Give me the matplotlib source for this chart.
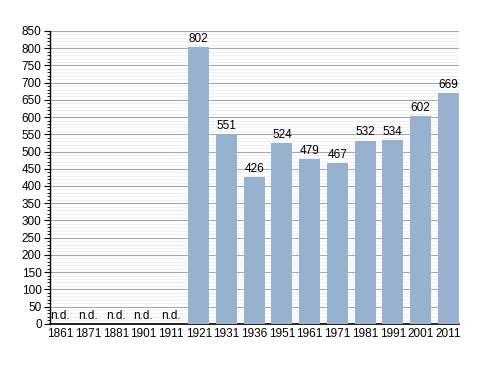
import matplotlib
matplotlib.use('Agg')
import matplotlib.pyplot as plt
from matplotlib.ticker import MultipleLocator

plt.rcParams['font.family'] = ['Liberation Sans Narrow', 'Liberation Sans', 'DejaVu Sans']

years = ['1861', '1871', '1881', '1901', '1911', '1921', '1931', '1936',
         '1951', '1961', '1971', '1981', '1991', '2001', '2011']
population = [None, None, None, None, None, 802, 551, 426,
              524, 479, 467, 532, 534, 602, 669]

fig = plt.figure(figsize=(4.88, 3.73), dpi=100)
ax = fig.add_axes([0.1025, 0.132, 0.838, 0.785])

x = list(range(len(years)))
heights = [v if v is not None else 0 for v in population]
bars = ax.bar(x, heights, width=0.76, color='#97b2ce', zorder=3)

for xi, v in zip(x, population):
    if v is None:
        ax.text(xi, 4, 'n.d.', ha='center', va='bottom', fontsize=8.5, zorder=4)
    else:
        ax.text(xi, v + 6, str(v), ha='center', va='bottom', fontsize=8.5, zorder=4)

ax.set_xlim(-0.37, 14.39)
ax.set_ylim(0, 850)
ax.set_xticks(x)
ax.set_xticklabels(years, fontsize=8.5)
ax.yaxis.set_major_locator(MultipleLocator(50))
ax.yaxis.set_minor_locator(MultipleLocator(10))
ax.tick_params(axis='y', labelsize=8.5, length=4, width=0.8, pad=2)
ax.tick_params(axis='y', which='minor', length=2, width=0.6)
ax.tick_params(axis='x', length=0, pad=3)

ax.grid(axis='y', which='major', color='#a8a8a8', linewidth=0.8, zorder=0)
ax.grid(axis='y', which='minor', color='#ececec', linewidth=0.6, zorder=0)

for side in ['top', 'right']:
    ax.spines[side].set_visible(False)
ax.spines['left'].set_linewidth(1.0)
ax.spines['bottom'].set_linewidth(1.2)

fig.savefig('out.png', dpi=100)
